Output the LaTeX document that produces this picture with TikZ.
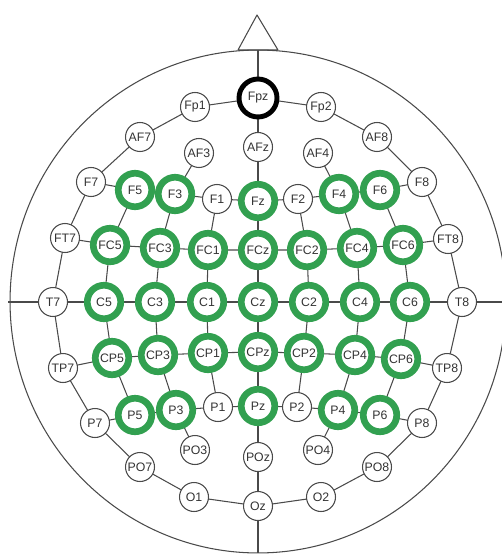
\documentclass[tikz,border=0pt]{standalone}
\usepackage{fontspec}
\setmainfont{Liberation Sans}
\usetikzlibrary{backgrounds}
\definecolor{verde}{HTML}{32A050}
\definecolor{grafito}{HTML}{4A4A4A}
\definecolor{texto}{HTML}{333333}

\begin{document}
\begin{tikzpicture}[x=0.02cm,y=-0.02cm,
      elec/.style={circle,draw=grafito,fill=white,line width=0.6pt,
                   minimum size=0.58cm,inner sep=0pt,text=texto,
                   font=\fontsize{7}{8}\selectfont},
      activo/.style={elec,draw=verde,line width=3.8pt,minimum size=0.67cm},
      ref/.style={elec,draw=black,line width=2.8pt,minimum size=0.76cm},
      cable/.style={draw=grafito,line width=0.6pt}]
    \useasboundingbox (0,0) rectangle (502,557);
    % cabeza y nariz
    \draw[cable] (258,301.5) ellipse [x radius=4.96cm,y radius=5.03cm];
    \draw[cable,line join=round] (238,50) -- (257,15) -- (278,50) -- cycle;
    \coordinate (arriba) at (258,50);
    \coordinate (abajo) at (258,553);
    \coordinate (izq) at (8,302);
    \coordinate (der) at (502,302);
    % frontales
    \node[elec] (Fp1) at (195,107) {Fp1};
    \node[ref] (Fpz) at (258,98) {Fpz};
    \node[elec] (Fp2) at (321,107) {Fp2};
    \node[elec] (AF7) at (140,137) {AF7};
    \node[elec] (AF3) at (199,153) {AF3};
    \node[elec] (AFz) at (258,147) {AFz};
    \node[elec] (AF4) at (318,153) {AF4};
    \node[elec] (AF8) at (377,137) {AF8};
    \node[elec] (F7) at (91,182) {F7};
    \node[activo] (F5) at (135,190) {F5};
    \node[activo] (F3) at (175,194) {F3};
    \node[elec] (F1) at (217,199) {F1};
    \node[activo] (Fz) at (258,201) {Fz};
    \node[elec] (F2) at (298,199) {F2};
    \node[activo] (F4) at (339,194) {F4};
    \node[activo] (F6) at (380,190) {F6};
    \node[elec] (F8) at (422,182) {F8};
    % fronto-centrales
    \node[elec] (FT7) at (65,238) {FT7};
    \node[activo] (FC5) at (110,245) {FC5};
    \node[activo] (FC3) at (160,248) {FC3};
    \node[activo] (FC1) at (208,250) {FC1};
    \node[activo] (FCz) at (258,250) {FCz};
    \node[activo] (FC2) at (307,250) {FC2};
    \node[activo] (FC4) at (357,248) {FC4};
    \node[activo] (FC6) at (403,245) {FC6};
    \node[elec] (FT8) at (448,239) {FT8};
    % centrales
    \node[elec] (T7) at (53,302) {T7};
    \node[activo] (C5) at (104,302) {C5};
    \node[activo] (C3) at (155,302) {C3};
    \node[activo] (C1) at (207,302) {C1};
    \node[activo] (Cz) at (258,302) {Cz};
    \node[activo] (C2) at (309,302) {C2};
    \node[activo] (C4) at (360,302) {C4};
    \node[activo] (C6) at (410,302) {C6};
    \node[elec] (T8) at (462,302) {T8};
    % centro-parietales
    \node[elec] (TP7) at (63,368) {TP7};
    \node[activo] (CP5) at (112,358) {CP5};
    \node[activo] (CP3) at (158,355) {CP3};
    \node[activo] (CP1) at (208,353) {CP1};
    \node[activo] (CPz) at (258,352) {CPz};
    \node[activo] (CP2) at (304,353) {CP2};
    \node[activo] (CP4) at (355,355) {CP4};
    \node[activo] (CP6) at (401,359) {CP6};
    \node[elec] (TP8) at (447,368) {TP8};
    % parietales y occipitales
    \node[elec] (P7) at (95,423) {P7};
    \node[activo] (P5) at (135,415) {P5};
    \node[activo] (P3) at (176,410) {P3};
    \node[elec] (P1) at (218,407) {P1};
    \node[activo] (Pz) at (258,406) {Pz};
    \node[elec] (P2) at (297,407) {P2};
    \node[activo] (P4) at (338,410) {P4};
    \node[activo] (P6) at (380,415) {P6};
    \node[elec] (P8) at (422,423) {P8};
    \node[elec] (PO7) at (140,467) {PO7};
    \node[elec] (PO3) at (195,450) {PO3};
    \node[elec] (POz) at (258,457) {POz};
    \node[elec] (PO4) at (318,450) {PO4};
    \node[elec] (PO8) at (377,467) {PO8};
    \node[elec] (O1) at (194,497) {O1};
    \node[elec] (Oz) at (258,506) {Oz};
    \node[elec] (O2) at (321,497) {O2};
    % conexiones
    \begin{scope}[on background layer]
      \draw[cable] (Fpz.center) -- (Fp1.center) -- (AF7.center) -- (F7.center) -- (FT7.center)
        -- (T7.center) -- (TP7.center) -- (P7.center) -- (PO7.center) -- (O1.center)
        -- (Oz.center) -- (O2.center) -- (PO8.center) -- (P8.center) -- (TP8.center)
        -- (T8.center) -- (FT8.center) -- (F8.center) -- (AF8.center) -- (Fp2.center) -- (Fpz.center);
      \draw[cable] (arriba) -- (Fpz.center) -- (AFz.center) -- (Fz.center) -- (FCz.center)
        -- (Cz.center) -- (CPz.center) -- (Pz.center) -- (POz.center) -- (Oz.center) -- (abajo);
      \draw[cable] (izq) -- (T7.center) -- (C5.center) -- (C3.center) -- (C1.center) -- (Cz.center)
        -- (C2.center) -- (C4.center) -- (C6.center) -- (T8.center) -- (der);
      \draw[cable] (F7.center) -- (F5.center) -- (F3.center) -- (F1.center) -- (Fz.center)
        -- (F2.center) -- (F4.center) -- (F6.center) -- (F8.center);
      \draw[cable] (FT7.center) -- (FC5.center) -- (FC3.center) -- (FC1.center) -- (FCz.center)
        -- (FC2.center) -- (FC4.center) -- (FC6.center) -- (FT8.center);
      \draw[cable] (TP7.center) -- (CP5.center) -- (CP3.center) -- (CP1.center) -- (CPz.center)
        -- (CP2.center) -- (CP4.center) -- (CP6.center) -- (TP8.center);
      \draw[cable] (P7.center) -- (P5.center) -- (P3.center) -- (P1.center) -- (Pz.center)
        -- (P2.center) -- (P4.center) -- (P6.center) -- (P8.center);
      \draw[cable] (F5.center) -- (FC5.center) -- (C5.center) -- (CP5.center) -- (P5.center);
      \draw[cable] (AF3.center) -- (F3.center) -- (FC3.center) -- (C3.center) -- (CP3.center)
        -- (P3.center) -- (PO3.center);
      \draw[cable] (F1.center) -- (FC1.center) -- (C1.center) -- (CP1.center) -- (P1.center);
      \draw[cable] (F2.center) -- (FC2.center) -- (C2.center) -- (CP2.center) -- (P2.center);
      \draw[cable] (AF4.center) -- (F4.center) -- (FC4.center) -- (C4.center) -- (CP4.center)
        -- (P4.center) -- (PO4.center);
      \draw[cable] (F6.center) -- (FC6.center) -- (C6.center) -- (CP6.center) -- (P6.center);
    \end{scope}
  \end{tikzpicture}
\end{document}
